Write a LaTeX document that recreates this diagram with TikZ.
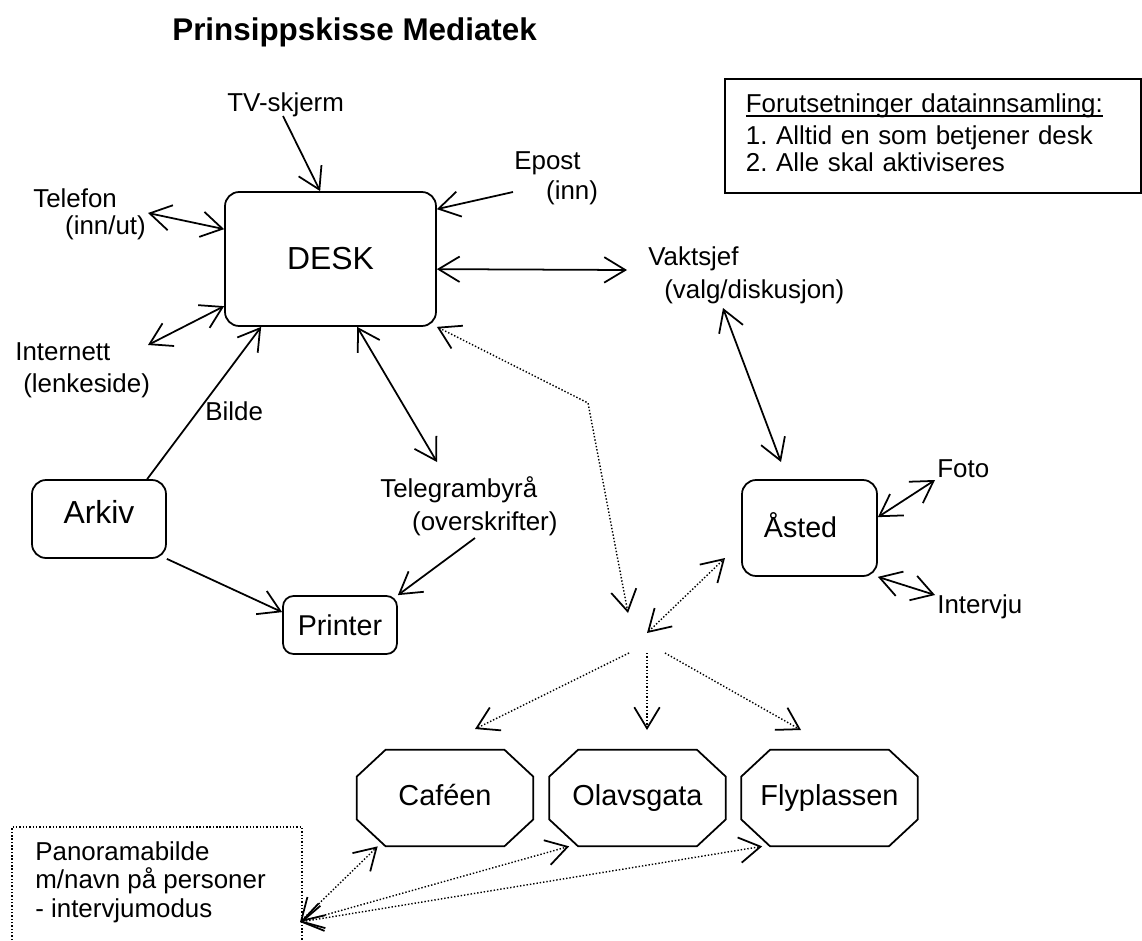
\documentclass[tikz,border=0pt]{standalone}
\usepackage{fontspec}
\setmainfont{Liberation Sans}
\usetikzlibrary{arrows.meta,calc}

% underline placed just below the baseline
\newsavebox\ulbox
\newcommand\underrule[1]{\sbox\ulbox{#1}\rlap{\rule[-2.4pt]{\wd\ulbox}{1pt}}\usebox\ulbox}

\begin{document}
\frenchspacing
\begin{tikzpicture}[x=0.02cm,y=-0.02cm,
  every node/.style={inner sep=0pt, font=\fontsize{14.74}{16.44}\selectfont},
  box/.style={draw, line width=1pt, rounded corners=8pt},
  place/.style={minimum width=3.52cm, minimum height=1.92cm, text height=12pt, text depth=3.5pt,
                font=\fontsize{16.44}{18}\selectfont},
  lbl/.style={anchor=north west, align=left},
  link/.style={line width=1pt},
  dots/.style={line width=0.8pt, dash pattern=on 0.8pt off 1.1pt},
  headend/.style={-{Straight Barb[length=12pt,width=14.5pt,line width=1pt]}},
  headboth/.style={{Straight Barb[length=12pt,width=14.5pt,line width=1pt]}-{Straight Barb[length=12pt,width=14.5pt,line width=1pt]}},
]
\useasboundingbox (0,0) rectangle (1142,940);

% heading
\node[anchor=base west, font=\fontsize{17.86}{20}\selectfont\bfseries] (title) at (172,40) {Prinsippskisse Mediatek};

% premises box
\node[draw, line width=1pt, anchor=north west, text width=7.48cm, inner xsep=0.42cm,
      minimum height=2.28cm, align=left] (prem) at (724,78)
  {\underrule{Forutsetninger datainnsamling:}\\[1.5pt]
   1. Alltid en som betjener desk\\[-0.7pt]
   2. Alle skal aktiviseres\rule[-3.4pt]{0pt}{3.4pt}};

% main boxes
\node[box, minimum width=4.22cm, minimum height=2.68cm, font=\fontsize{18.14}{20}\selectfont] (desk) at (330.5,259) {DESK};
\node[box, minimum width=2.68cm, minimum height=1.56cm, font=\fontsize{18.14}{20}\selectfont] (arkiv) at (99,519) {\raisebox{7.9pt}{Arkiv}\hspace{12.5pt}};
\node[box, rounded corners=6pt, minimum width=2.28cm, minimum height=1.16cm, font=\fontsize{16.3}{18}\selectfont] (printer) at (340,625) {Printer};
\node[box, minimum width=2.7cm, minimum height=1.92cm, font=\fontsize{16.3}{18}\selectfont] (asted) at (809.5,528) {Åsted\hspace{10.2pt}\rule[-3pt]{0pt}{3pt}};

% places (octagons)
\node[place] (cafe) at (445,798) {Caféen};
\node[place] (olav) at (637.5,798) {Olavsgata};
\node[place] (fly) at (829.5,798) {Flyplassen};
\foreach \n in {cafe,olav,fly}
  \draw[line width=1pt] ($(\n.north west)+(29,0)$) -- ($(\n.north east)+(-29,0)$)
    -- ($(\n.north east)+(0,27)$) -- ($(\n.south east)+(0,-27)$)
    -- ($(\n.south east)+(-29,0)$) -- ($(\n.south west)+(29,0)$)
    -- ($(\n.south west)+(0,-27)$) -- ($(\n.north west)+(0,27)$) -- cycle;

% labels
\node[lbl] (tv) at (227,92) {TV-skjerm};
\node[lbl] (tel) at (33,188) {Telefon\\[-1pt]\hspace*{18.1pt}(inn/ut)};
\node[lbl] (inet) at (15,342) {Internett\\[1.7pt]\hspace*{4.5pt}(lenkeside)};
\node[lbl] (epost) at (514,151) {Epost\\[0.6pt]\hspace*{18.1pt}(inn)};
\node[lbl] (vakt) at (648,246) {Vaktsjef\\[2.3pt]\hspace*{9.1pt}(valg/diskusjon)};
\node[lbl] (tg) at (380,476) {Telegrambyrå\\[2.3pt]\hspace*{18.1pt}(overskrifter)};
\node[lbl] (foto) at (937,459) {Foto};
\node[lbl] (intv) at (937,594) {Intervju};
\node[lbl] (bilde) at (205,401) {Bilde};
\node[lbl] (pano) at (35,841) {Panoramabilde\\[-0.5pt]m/navn på personer\\- intervjumodus};

% dotted frame round the panorama note (open at the bottom edge)
\draw[dots] (12,950) |- (302,827) -- (302,950);

% free ends of connectors
\coordinate (tvend) at (283,116);
\coordinate (telend) at (148,213);
\coordinate (inetend) at (148,345);
\coordinate (epend) at (513,192);
\coordinate (vaktend) at (627,270);
\coordinate (vaktlow) at (723,308);
\coordinate (astedtop) at (781,462);
\coordinate (tgtop) at (437,462);
\coordinate (tglow) at (475,538);
\coordinate (fotoend) at (935,480);
\coordinate (intvend) at (935,595);
\coordinate (bend) at (588,403);
\coordinate (hubin) at (628,613);
\coordinate (hubout) at (647,633);
\coordinate (astedin) at (725,558);
\coordinate (fanA) at (629,653);
\coordinate (fanB) at (647,653);
\coordinate (fanC) at (665,653);
\coordinate (fanAend) at (475,729);
\coordinate (fanBend) at (647,730);
\coordinate (fanCend) at (801,730);
\coordinate (panoport) at (300,922);

% solid connectors
\draw[link, headend] (tvend) -- ($(desk.north west)+(96,0)$);
\draw[link, headboth] (telend) -- ($(desk.north west)+(0,38)$);
\draw[link, headboth] (inetend) -- ($(desk.north west)+(0,115)$);
\draw[link, headend] (epend) -- ($(desk.north east)+(0,18)$);
\draw[link, headboth] ($(desk.north east)+(0,78)$) -- (vaktend);
\draw[link, headboth] ($(desk.south west)+(133,0)$) -- (tgtop);
\draw[link, headend] ($(arkiv.north west)+(116,0)$) -- ($(desk.south west)+(37,0)$);
\draw[link, headend] (arkiv.south east) -- ($(printer.north west)+(0,17)$);
\draw[link, headend] (tglow) -- (printer.north east);
\draw[link, headboth] (vaktlow) -- (astedtop);
\draw[link, headboth] ($(asted.north east)+(0,38)$) -- (fotoend);
\draw[link, headboth] (asted.south east) -- (intvend);

% dotted connectors
\draw[dots, headboth] (desk.south east) -- (bend) -- (hubin);
\draw[dots, headboth] (hubout) -- (astedin);
\draw[dots, headend] (fanA) -- (fanAend);
\draw[dots, headend] (fanB) -- (fanBend);
\draw[dots, headend] (fanC) -- (fanCend);
\draw[dots, headboth] (panoport) -- ($(cafe.south west)+(21,0)$);
\draw[dots, headboth] (panoport) -- ($(olav.south west)+(20,0)$);
\draw[dots, headboth] (panoport) -- ($(fly.south west)+(21,0)$);
\end{tikzpicture}
\end{document}
